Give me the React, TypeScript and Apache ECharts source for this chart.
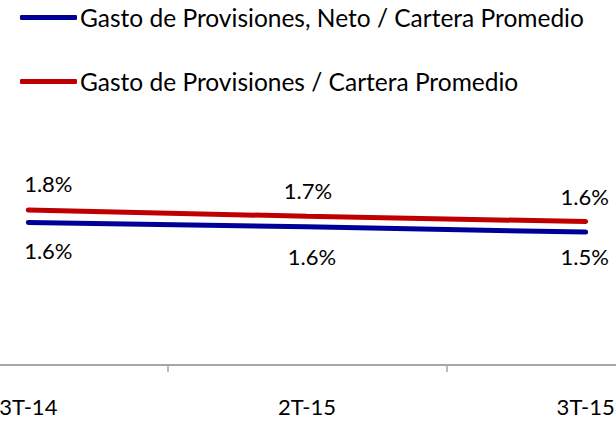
import React, { useEffect, useRef } from "react";
import * as echarts from "echarts";

const categories = ["3T-14", "2T-15", "3T-15"];
const seriesNames = [
  "Gasto de Provisiones, Neto / Cartera Promedio",
  "Gasto de Provisiones / Cartera Promedio",
];
const netoValues = [1.62, 1.57, 1.51];
const brutoValues = [1.76, 1.69, 1.63];
const netoLabels = ["1.6%", "1.6%", "1.5%"];
const brutoLabels = ["1.8%", "1.7%", "1.6%"];

const netoOffsets: [number, number][] = [[20, 28], [5, 30], [-1, 24]];
const brutoOffsets: [number, number][] = [[20, -27], [1, -26], [-1, -25]];

const FONT = "Lato";

export default function App() {
  const ref = useRef<HTMLDivElement>(null);
  useEffect(() => {
    if (!ref.current) return;
    const chart = echarts.init(ref.current, null, { renderer: "svg" });
    const mk = (vals: number[], labels: string[], offs: [number, number][]) =>
      vals.map((v, i) => ({
        value: v,
        label: {
          show: true,
          position: "inside",
          offset: offs[i],
          formatter: labels[i],
          color: "#000",
          fontSize: 22,
          fontFamily: FONT,
        },
      }));
    chart.setOption({
      animation: false,
      legend: {
        orient: "vertical",
        left: 15,
        top: 0,
        itemWidth: 57,
        itemHeight: 5,
        itemGap: 39,
        icon: "roundRect",
        textStyle: { fontSize: 24.5, lineHeight: 24, color: "#000", fontFamily: FONT, padding: [0, 0, 0, -2] },
        data: seriesNames,
      },
      grid: { left: -111, right: -109, top: 145, bottom: 60, outerBoundsMode: "none", containLabel: false },
      xAxis: {
        type: "category",
        data: categories,
        boundaryGap: true,
        axisLine: { lineStyle: { color: "#a6a6a6", width: 2 } },
        axisTick: { show: true, length: 7, lineStyle: { color: "#a6a6a6", width: 1.5 } },
        axisLabel: { color: "#000", fontSize: 22, fontFamily: FONT, margin: 30 },
      },
      yAxis: {
        type: "value",
        min: 0,
        max: 2.5,
        show: false,
        splitLine: { show: false },
      },
      series: [
        {
          name: seriesNames[0],
          type: "line",
          data: mk(netoValues, netoLabels, netoOffsets),
          symbol: "circle",
          symbolSize: 0.1,
          showSymbol: true,
          color: "#000099",
          lineStyle: { width: 5, color: "#000099", cap: "round" },
          itemStyle: { color: "#000099" },
        },
        {
          name: seriesNames[1],
          type: "line",
          data: mk(brutoValues, brutoLabels, brutoOffsets),
          symbol: "circle",
          symbolSize: 0.1,
          showSymbol: true,
          color: "#C00000",
          lineStyle: { width: 5, color: "#C00000", cap: "round" },
          itemStyle: { color: "#C00000" },
        },
      ],
    });
    return () => chart.dispose();
  }, []);
  return (
    <div
      ref={ref}
      style={{ position: "fixed", left: 0, top: 0, width: 616, height: 425, background: "#fff" }}
    />
  );
}
